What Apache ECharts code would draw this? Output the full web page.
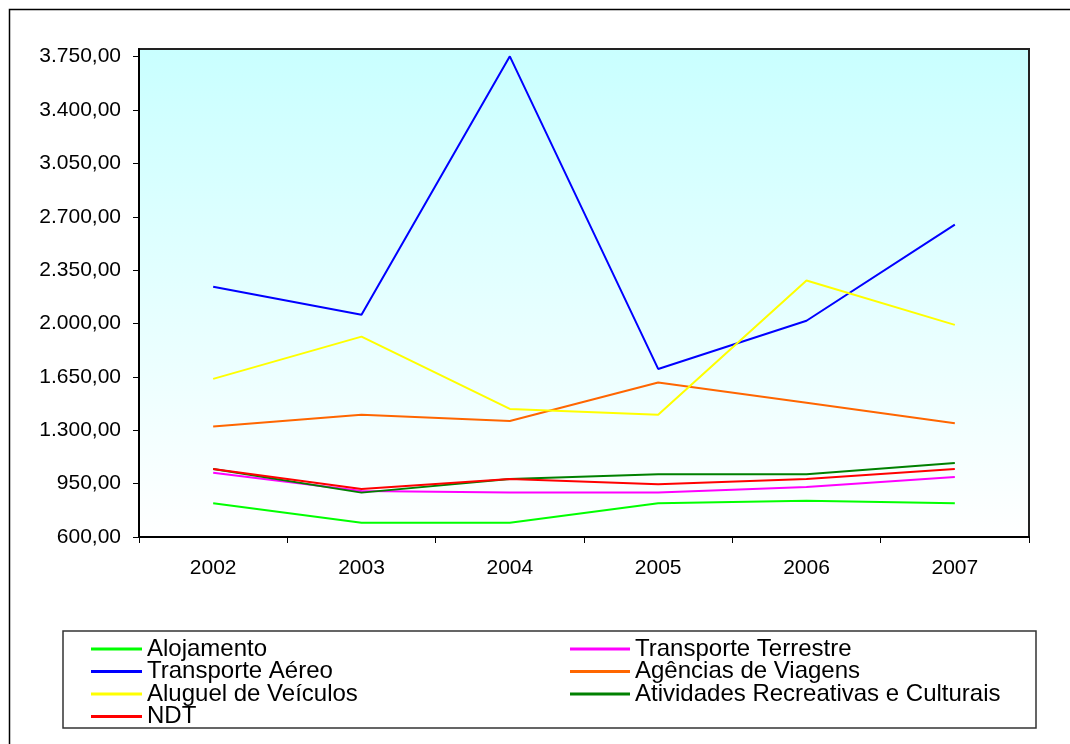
<!DOCTYPE html>
<html>
<head>
<meta charset="utf-8">
<script src="https://cdn.jsdelivr.net/npm/echarts@6/dist/echarts.min.js"></script>
<style>
html,body{margin:0;padding:0;background:#fff;}
#chart{width:1070px;height:744px;}
</style>
</head>
<body>
<div id="chart"></div>
<script>
const categories = ['2002', '2003', '2004', '2005', '2006', '2007'];
const alojamento = [821, 694, 694, 821, 838, 821];
const transporteTerrestre = [1022, 902, 891, 891, 928, 994];
const transporteAereo = [2241, 2057, 3752, 1702, 2018, 2648];
const agenciasViagens = [1324, 1401, 1361, 1613, 1481, 1346];
const aluguelVeiculos = [1637, 1914, 1440, 1401, 2282, 1991];
const atividadesRecreativas = [1046, 891, 981, 1011, 1011, 1086];
const ndt = [1046, 915, 981, 946, 981, 1046];

const seriesNames = ['Alojamento', 'Transporte Terrestre', 'Transporte Aéreo', 'Agências de Viagens',
  'Aluguel de Veículos', 'Atividades Recreativas e Culturais', 'NDT'];
const seriesData = [alojamento, transporteTerrestre, transporteAereo, agenciasViagens,
  aluguelVeiculos, atividadesRecreativas, ndt];
const seriesColors = ['#00FF00', '#FF00FF', '#0000FF', '#FF6600', '#FFFF00', '#008000', '#FF0000'];

function fmt(v) {
  const parts = v.toFixed(2).split('.');
  parts[0] = parts[0].replace(/\B(?=(\d{3})+(?!\d))/g, '.');
  return parts[0] + ',' + parts[1];
}

const chart = echarts.init(document.getElementById('chart'), null, {renderer: 'canvas'});
const font = 'Liberation Sans, Arial, sans-serif';
const legendText = {fontFamily: font, fontSize: 24, color: '#000'};

chart.setOption({
  animation: false,
  backgroundColor: '#fff',
  graphic: [
    {type: 'rect', shape: {x: 9.5, y: 9.5, width: 1100, height: 800},
     style: {fill: 'none', stroke: '#000', lineWidth: 1.5}, z: -10},
    {type: 'rect', shape: {x: 63, y: 631, width: 973, height: 97},
     style: {fill: '#fff', stroke: '#333', lineWidth: 1.5}, z: -5}
  ],
  grid: {
    left: 139, right: 41, top: 49, bottom: 207,
    show: true,
    borderColor: '#222', borderWidth: 2,
    backgroundColor: {
      type: 'linear', x: 0, y: 0, x2: 0, y2: 1,
      colorStops: [{offset: 0, color: '#C9FFFF'}, {offset: 1, color: '#FFFFFF'}]
    }
  },
  legend: [
    {
      orient: 'vertical', left: 86, top: 632, itemGap: -1.5,
      itemWidth: 51, itemHeight: 3, icon: 'rect', itemStyle: {borderWidth: 0},
      textStyle: legendText,
      data: ['Alojamento', 'Transporte Aéreo', 'Aluguel de Veículos', 'NDT']
    },
    {
      orient: 'vertical', left: 565, top: 632, itemGap: -1.5,
      itemWidth: 60, itemHeight: 3, icon: 'rect', itemStyle: {borderWidth: 0},
      textStyle: legendText,
      data: ['Transporte Terrestre', 'Agências de Viagens', 'Atividades Recreativas e Culturais']
    }
  ],
  xAxis: {
    type: 'category',
    data: categories,
    boundaryGap: true,
    axisLine: {lineStyle: {color: '#000', width: 2}},
    axisTick: {show: true, length: 6, inside: false, lineStyle: {color: '#000', width: 1}},
    axisLabel: {fontFamily: font, fontSize: 21, color: '#000', margin: 21},
    splitLine: {show: false}
  },
  yAxis: {
    type: 'value',
    min: 600, max: 3800, interval: 350,
    axisLine: {show: true, lineStyle: {color: '#000', width: 2}},
    axisTick: {show: true, length: 6, lineStyle: {color: '#000', width: 1}},
    axisLabel: {fontFamily: font, fontSize: 21, color: '#000', margin: 18,
      showMaxLabel: false, formatter: fmt},
    splitLine: {show: false}
  },
  series: seriesNames.map((name, i) => ({
    name: name,
    type: 'line',
    data: seriesData[i],
    symbol: 'none',
    color: seriesColors[i],
    lineStyle: {color: seriesColors[i], width: 2}
  }))
});
</script>
</body>
</html>
